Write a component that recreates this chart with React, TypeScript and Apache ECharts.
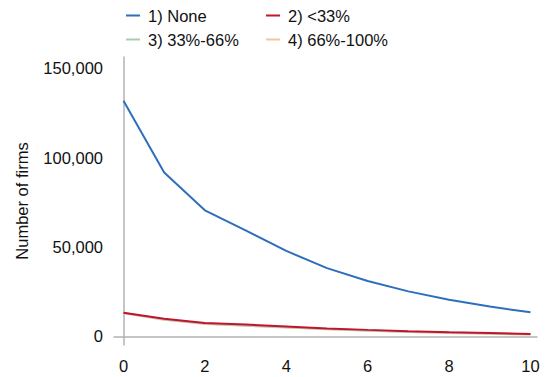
import React, { useEffect, useRef } from "react";
import * as echarts from "echarts";

const xValues = [0, 1, 2, 3, 4, 5, 6, 7, 8, 9, 10];
const seriesNames = ["1) None", "2) <33%", "3) 33%-66%", "4) 66%-100%"];
const noneValues = [131700, 91600, 70500, 59300, 47800, 38200, 31000, 25200, 20500, 16700, 13500];
const lt33Values = [13300, 9900, 7600, 6700, 5600, 4500, 3700, 3000, 2400, 1900, 1400];
const mid33to66Values = [13200, 9500, 7200, 6200, 5200, 4200, 3400, 2700, 2200, 1700, 1250];
const hi66to100Values = [13000, 9300, 7000, 6000, 5000, 4000, 3200, 2500, 2000, 1500, 1100];
const seriesValues = [noneValues, lt33Values, mid33to66Values, hi66to100Values];
const seriesColors = ["#2d6fba", "#c0142f", "#a9cdb2", "#f5c49e"];
const yTicks = [0, 50000, 100000, 150000];
const xTicks = [0, 2, 4, 6, 8, 10];

const FONT = "'Liberation Sans', Arial, sans-serif";

export default function App() {
  const ref = useRef<HTMLDivElement>(null);
  useEffect(() => {
    if (!ref.current) return;
    const chart = echarts.init(ref.current, null, { renderer: "svg" });
    const legendPos = [
      { left: 126, top: 7 },
      { left: 266, top: 7 },
      { left: 126, top: 31 },
      { left: 266, top: 31 },
    ];
    chart.setOption({
      animation: false,
      backgroundColor: "#ffffff",
      textStyle: { fontFamily: FONT },
      legend: seriesNames.map((n, i) => ({
        data: [n],
        left: legendPos[i].left,
        top: legendPos[i].top,
        icon: "rect",
        itemWidth: 14,
        itemHeight: 2,
        itemGap: 0,
        padding: 0,
        textStyle: { fontSize: 16.5, color: "#111", fontFamily: FONT, padding: [0, 0, 0, 3] },
      })),
      grid: { left: 114, right: 11, top: 57, bottom: 32 },
      xAxis: {
        type: "value",
        min: -0.233,
        max: 10.16,
        splitLine: { show: false },
        axisTick: { show: false },
        axisLine: { show: true, lineStyle: { color: "#b3b3b3", width: 1.5 } },
        axisLabel: {
          customValues: xTicks,
          fontSize: 16.5,
          color: "#111",
          fontFamily: FONT,
          margin: 12,
        },
      },
      yAxis: {
        type: "value",
        min: -4750,
        max: 156150,
        name: "Number of firms",
        nameLocation: "middle",
        nameGap: 84,
        nameTextStyle: { fontSize: 16.5, color: "#111", fontFamily: FONT },
        splitLine: { show: false },
        axisTick: { show: false },
        axisLine: { show: true, lineStyle: { color: "#b3b3b3", width: 1.5 } },
        axisLabel: {
          customValues: yTicks,
          fontSize: 16.5,
          color: "#111",
          fontFamily: FONT,
          margin: 11,
          formatter: (v: number) => v.toLocaleString("en-US"),
        },
      },
      series: seriesNames.map((n, i) => ({
        name: n,
        type: "line",
        data: xValues.map((x, j) => [x, seriesValues[i][j]]),
        showSymbol: false,
        symbol: "none",
        color: seriesColors[i],
        lineStyle: { width: 2, color: seriesColors[i] },
        z: i === 1 ? 5 : i === 0 ? 4 : 3 - i * 0.1,
      })),
    });
    return () => chart.dispose();
  }, []);
  return <div ref={ref} style={{ width: 548, height: 377, position: "absolute", left: 0, top: 0 }} />;
}
